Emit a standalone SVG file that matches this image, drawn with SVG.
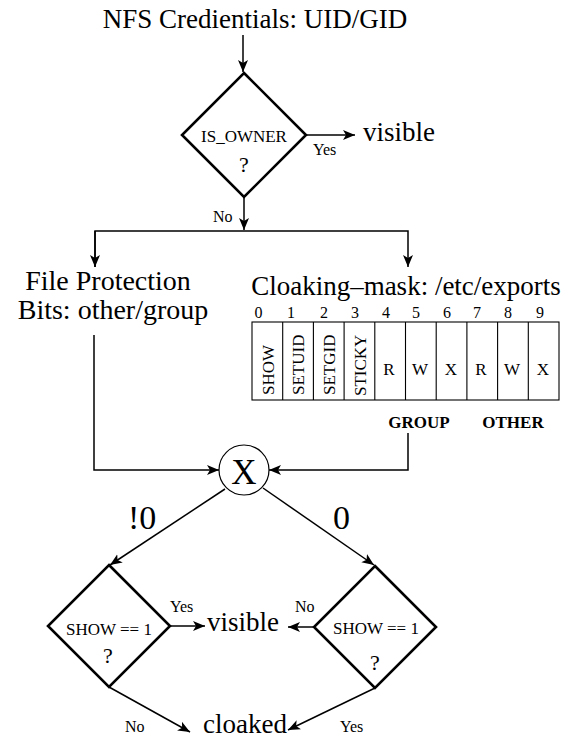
<svg xmlns="http://www.w3.org/2000/svg" width="567" height="738" viewBox="0 0 567 738">
<style>
text{font-family:"Liberation Serif","Times New Roman",serif;fill:#000}
.big{font-size:27px}
.mid{font-size:17px}
.sm{font-size:16px}
.q{font-size:22px}
.b{font-size:17px;font-weight:bold}
.dia{fill:#fff;stroke:#000;stroke-width:2.6;stroke-linejoin:miter}
.con{fill:none;stroke:#000;stroke-width:1.5}
.tbl{fill:none;stroke:#000;stroke-width:1.1}
</style>
<defs>
<marker id="ah" markerUnits="userSpaceOnUse" markerWidth="13" markerHeight="12" refX="12" refY="5" orient="auto" viewBox="0 0 13 10">
<path d="M0,0 L12,5 L0,10 L3,5 z" fill="#000"/>
</marker>
</defs>
<rect width="567" height="738" fill="#fff"/>

<g id="title"><text class="big" x="255" y="28" text-anchor="middle">NFS Credientials: UID/GID</text></g>

<g id="isowner">
<polygon class="dia" points="244,73 306,135 244,197 182,135"/>
<text class="mid" x="244" y="142" text-anchor="middle">IS_OWNER</text>
<text class="q" x="244" y="172" text-anchor="middle">?</text>
</g>

<g id="visible1"><text class="big" x="363" y="141">visible</text></g>

<g id="fileprot">
<text x="108" y="290" text-anchor="middle" style="font-size:28px">File Protection</text>
<text x="113" y="319" text-anchor="middle" style="font-size:28px">Bits: other/group</text>
</g>

<g id="cloakmask">
<text class="big" x="406" y="295" text-anchor="middle">Cloaking–mask: /etc/exports</text>
<g class="sm">
<text x="258.5" y="318" text-anchor="middle">0</text>
<text x="291" y="318" text-anchor="middle">1</text>
<text x="324" y="318" text-anchor="middle">2</text>
<text x="355" y="318" text-anchor="middle">3</text>
<text x="386" y="318" text-anchor="middle">4</text>
<text x="416" y="318" text-anchor="middle">5</text>
<text x="447" y="318" text-anchor="middle">6</text>
<text x="477" y="318" text-anchor="middle">7</text>
<text x="508" y="318" text-anchor="middle">8</text>
<text x="540" y="318" text-anchor="middle">9</text>
</g>
<rect class="tbl" x="252" y="322" width="307" height="78"/>
<path class="tbl" d="M282.7,322V400M313.4,322V400M344.1,322V400M374.8,322V400M405.5,322V400M436.2,322V400M466.9,322V400M497.6,322V400M528.3,322V400"/>
<text class="mid" transform="translate(273.5,395) rotate(-90)">SHOW</text>
<text class="mid" transform="translate(304.2,395) rotate(-90)">SETUID</text>
<text class="mid" transform="translate(334.9,395) rotate(-90)">SETGID</text>
<text class="mid" transform="translate(365.6,396) rotate(-90)">STICKY</text>
<text class="mid" x="389" y="375" text-anchor="middle">R</text>
<text class="mid" x="420" y="375" text-anchor="middle">W</text>
<text class="mid" x="451" y="375" text-anchor="middle">X</text>
<text class="mid" x="481" y="375" text-anchor="middle">R</text>
<text class="mid" x="512" y="375" text-anchor="middle">W</text>
<text class="mid" x="543" y="375" text-anchor="middle">X</text>
<text class="b" x="419" y="428" text-anchor="middle">GROUP</text>
<text class="b" x="513" y="428" text-anchor="middle">OTHER</text>
</g>

<g id="xor">
<circle cx="244" cy="470" r="25" fill="#fff" stroke="#000" stroke-width="1.2"/>
<text x="244" y="484" text-anchor="middle" style="font-size:35px">X</text>
</g>

<g id="show1">
<polygon class="dia" points="109,565 170,626 109,687 48,626"/>
<text class="mid" x="109" y="635" text-anchor="middle">SHOW == 1</text>
<text class="q" x="108" y="663" text-anchor="middle">?</text>
</g>

<g id="show2">
<polygon class="dia" points="375,566 436,627 375,688 314,627"/>
<text class="mid" x="376" y="634" text-anchor="middle">SHOW == 1</text>
<text class="q" x="375" y="670" text-anchor="middle">?</text>
</g>

<g id="visible2"><text class="big" x="243" y="631" text-anchor="middle">visible</text></g>
<g id="cloaked"><text class="big" x="245" y="733" text-anchor="middle">cloaked</text></g>

<g id="connectors">
<path class="con" d="M243,35V72" marker-end="url(#ah)"/>
<path class="con" d="M306,135H355" marker-end="url(#ah)"/>
<path class="con" d="M244,197V230" marker-end="url(#ah)"/>
<path class="con" d="M95,267V231H408V267" marker-end="url(#ah)"/>
<path class="con" d="M95,231V267" marker-end="url(#ah)"/>
<path class="con" d="M94,335V470H219" marker-end="url(#ah)"/>
<path class="con" d="M408,433V470H269" marker-end="url(#ah)"/>
<path class="con" d="M225,489L110,565" marker-end="url(#ah)"/>
<path class="con" d="M263,488L374,565" marker-end="url(#ah)"/>
<path class="con" d="M170,626H205" marker-end="url(#ah)"/>
<path class="con" d="M314,627H288" marker-end="url(#ah)"/>
<path class="con" d="M109,687L190,732" marker-end="url(#ah)"/>
<path class="con" d="M375,688L288,730" marker-end="url(#ah)"/>
<text class="sm" x="313" y="155">Yes</text>
<text class="sm" x="213" y="222">No</text>
<text x="128" y="529" style="font-size:34px">!0</text>
<text x="333" y="529" style="font-size:34px">0</text>
<text class="sm" x="170" y="612">Yes</text>
<text class="sm" x="295" y="612">No</text>
<text class="sm" x="125" y="732">No</text>
<text class="sm" x="340" y="732">Yes</text>
</g>
</svg>
